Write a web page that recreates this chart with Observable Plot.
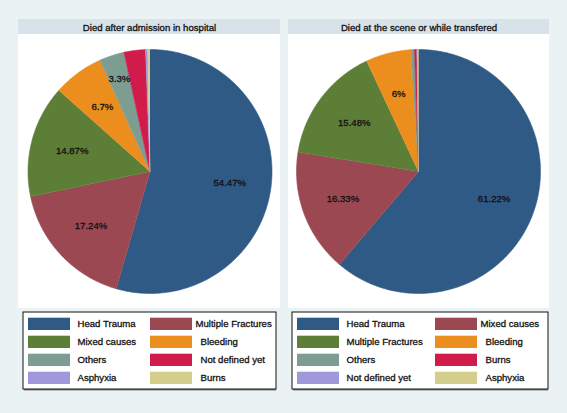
<!DOCTYPE html>
<html>
<head>
<meta charset="utf-8">
<script src="https://cdn.jsdelivr.net/npm/d3@7"></script>
<script src="https://cdn.jsdelivr.net/npm/@observablehq/plot@0.6"></script>
<style>
  html, body { margin: 0; padding: 0; background: #eaf2f3; }
  svg { display: block; }
</style>
</head>
<body>
<div id="chart"></div>
<script>
// ---------- data ----------
const leftTitle = "Died after admission in hospital";
const leftCauses = ["Head Trauma", "Multiple Fractures", "Mixed causes", "Bleeding", "Others", "Not defined yet", "Asphyxia", "Burns"];
const leftValues = [54.47, 17.24, 14.87, 6.7, 3.3, 2.84, 0.29, 0.29];
const leftLabels = ["54.47%", "17.24%", "14.87%", "6.7%", "3.3%", "", "", ""];

const rightTitle = "Died at the scene or while transfered";
const rightCauses = ["Head Trauma", "Mixed causes", "Multiple Fractures", "Bleeding", "Others", "Burns", "Not defined yet", "Asphyxia"];
const rightValues = [61.22, 16.33, 15.48, 6, 0.45, 0.3, 0.12, 0.1];
const rightLabels = ["61.22%", "16.33%", "15.48%", "6%", "", "", "", ""];

// ---------- styles / layout ----------
const sliceColors = ["#2f5a85", "#9c4852", "#5d7e37", "#ec8e1d", "#7d9c92", "#d11b4b", "#9f99dc", "#d4ce8c"];
const W = 567, H = 413;
const panels = [
  {title: leftTitle, causes: leftCauses, values: leftValues, labels: leftLabels,
   x0: 18, x1: 280, cx: 149.5, cy: 171, r: 122,
   labelRadius: [0.66, 0.66, 0.66, 0.66, 0.8, 0.66, 0.66, 0.66],
   lx0: 23, lx1: 276, col2x: 150},
  {title: rightTitle, causes: rightCauses, values: rightValues, labels: rightLabels,
   x0: 288, x1: 549, cx: 418, cy: 171, r: 122,
   labelRadius: [0.66, 0.66, 0.66, 0.66, 0.66, 0.66, 0.66, 0.66],
   lx0: 292, lx1: 548, col2x: 435}
];
const titleY0 = 19, titleY1 = 34, plotY1 = 308;
const legY0 = 312, legY1 = 389, rowY0 = 317.7, rowStep = 18, swH = 12.3, swW = 42;
const ink = {fill: "#111", stroke: "#111", strokeWidth: 0.3};

// ---------- build geometry from values ----------
function slices(p) {
  const total = d3.sum(p.values);
  let acc = 0;
  return p.values.map((v, i) => {
    const a0 = acc / total * 2 * Math.PI;
    acc += v;
    const a1 = acc / total * 2 * Math.PI;
    const n = Math.max(2, Math.ceil((a1 - a0) / (Math.PI / 360)));
    const pts = [{px: p.cx, py: p.cy}];
    for (let k = 0; k <= n; k++) {
      const a = a0 + (a1 - a0) * k / n;
      pts.push({px: p.cx + p.r * Math.sin(a), py: p.cy - p.r * Math.cos(a)});
    }
    const mid = (a0 + a1) / 2, lr = p.labelRadius[i] * p.r;
    return {i, pts, color: sliceColors[i], label: p.labels[i],
            lx: p.cx + lr * Math.sin(mid), ly: p.cy - lr * Math.cos(mid)};
  });
}

const marks = [];
for (const p of panels) {
  // plot region + title strip
  marks.push(Plot.rect([p], {x1: "x0", x2: "x1", y1: () => titleY1, y2: () => plotY1, fill: "white"}));
  marks.push(Plot.rect([p], {x1: "x0", x2: "x1", y1: () => titleY0, y2: () => titleY1, fill: "#d8e2e9"}));
  marks.push(Plot.text([p], {x: d => (d.x0 + d.x1) / 2, y: () => (titleY0 + titleY1) / 2 + 0.5, text: "title",
    fontSize: 9.6, ...ink, textAnchor: "middle", lineAnchor: "middle"}));
  // pie
  const sl = slices(p);
  for (const s of sl) {
    marks.push(Plot.line(s.pts, {x: "px", y: "py", fill: s.color, stroke: s.color, strokeWidth: 0.6, curve: "linear"}));
  }
  marks.push(Plot.text(sl.filter(s => s.label), {x: "lx", y: "ly", text: "label",
    fontSize: 9.6, ...ink, textAnchor: "middle", lineAnchor: "middle"}));
  // legend box
  marks.push(Plot.rect([p], {x1: d => d.lx0 + 1, x2: "lx1", y1: () => legY1 - 1, y2: () => legY1 + 1.5, fill: "#808080"}));
  marks.push(Plot.rect([p], {x1: "lx0", x2: "lx1", y1: () => legY0, y2: () => legY1, fill: "white", stroke: "#111", strokeWidth: 1}));
  const items = p.causes.map((c, i) => {
    const col = i % 2, row = Math.floor(i / 2);
    const sx = col === 0 ? p.lx0 + 5 : p.col2x;
    const gap = col === 0 ? 7 : (row === 0 ? 3 : 8);
    const top = rowY0 + row * rowStep;
    return {c, color: sliceColors[i], sx, sx2: sx + swW, sy: top, sy2: top + swH, tx: sx + swW + gap, ty: top + swH / 2};
  });
  marks.push(Plot.rect(items, {x1: "sx", x2: "sx2", y1: "sy", y2: "sy2", fill: "color"}));
  marks.push(Plot.text(items, {x: "tx", y: "ty", text: "c", fontSize: 9.6, ...ink, textAnchor: "start", lineAnchor: "middle"}));
}

const chart = Plot.plot({
  width: W,
  height: H,
  margin: 0,
  x: {domain: [0, W], range: [0, W], axis: null},
  y: {domain: [0, H], range: [0, H], axis: null},
  color: {type: "identity"},
  style: {background: "#eaf2f3", fontFamily: "'Liberation Sans', Arial, Helvetica, sans-serif", overflow: "visible"},
  marks
});
document.getElementById("chart").append(chart);
</script>
</body>
</html>
